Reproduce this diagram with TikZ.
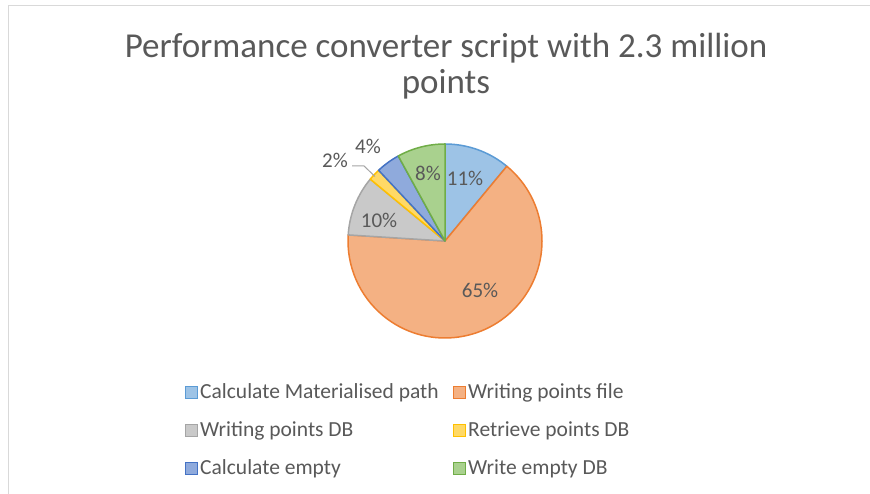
\documentclass[tikz,border=0pt]{standalone}
\usepackage{fontspec}
\setmainfont{Carlito}
\usetikzlibrary{calc}

\definecolor{txt}{HTML}{595959}
\definecolor{frame}{HTML}{D9D9D9}
\definecolor{bluefill}{HTML}{9DC3E6}\definecolor{blueline}{HTML}{5B9BD5}
\definecolor{orfill}{HTML}{F4B183}\definecolor{orline}{HTML}{ED7D31}
\definecolor{grfill}{HTML}{C9C9C9}\definecolor{grline}{HTML}{A5A5A5}
\definecolor{yefill}{HTML}{FFD966}\definecolor{yeline}{HTML}{FFC000}
\definecolor{dbfill}{HTML}{8FAADC}\definecolor{dbline}{HTML}{4472C4}
\definecolor{gnfill}{HTML}{A9D18E}\definecolor{gnline}{HTML}{70AD47}

\tikzset{
  slice/.style={line width=1.5pt, line join=round},
  pct/.style={text=txt, font=\fontsize{21}{24}\selectfont, inner sep=0pt},
  keybox/.style={minimum size=12pt, inner sep=0pt, line width=1pt},
  keytext/.style={text=txt, font=\fontsize{21.5}{24}\selectfont, anchor=west, inner sep=0pt},
}

% Slice from angle a to angle b (clockwise)
\newcommand{\pieslice}[4]{%
  \fill[#3] (ctr) -- ++(#1:97pt) arc[start angle=#1, end angle=#2, radius=97pt] -- cycle;
  \draw[slice, #4] (ctr) -- ++(#1:97pt) arc[start angle=#1, end angle=#2, radius=97pt] -- cycle;}

\begin{document}
\begin{tikzpicture}[x=1pt, y=1pt]
  \useasboundingbox (0,0) rectangle (870,494);
  \fill[white] (0,0) rectangle (870,494);

  % chart frame (top and left edges)
  \draw[frame, line width=1.5pt] (8.5,0) -- (8.5,488.5) -- (870,488.5);

  % title
  \node[text=txt, font=\fontsize{35}{36.5}\selectfont, align=center] (title) at (446,428)
    {Performance converter script with 2.3 million\\points};

  % pie
  \coordinate (ctr) at (445,253);
  \pieslice{90}{50.4}{bluefill}{blueline}
  \pieslice{50.4}{-183.6}{orfill}{orline}
  \pieslice{-183.6}{-219.6}{grfill}{grline}
  \pieslice{-219.6}{-226.8}{yefill}{yeline}
  \pieslice{-226.8}{-241.2}{dbfill}{dbline}
  \pieslice{-241.2}{-270}{gnfill}{gnline}

  % data labels
  \node[pct] (l11) at (465,316) {11\%};
  \node[pct] (l65) at (480,204) {65\%};
  \node[pct] (l10) at (379,274) {10\%};
  \node[pct] (l8)  at (428,321) {8\%};
  \node[pct] (l4)  at (368,348) {4\%};
  \node[pct] (l2)  at (335,334) {2\%};
  \coordinate (lead) at (375,317.5);
  \draw[grline, line width=1pt] (l2.east) ++(4pt,-6pt) coordinate (leadstart)
    -- ++(12pt,0) -- (lead);

  % legend
  \node[keybox, draw=blueline, fill=bluefill] (k1) at (191,101.3) {};
  \node[keytext] (t1) at (200,101.3) {Calculate Materialised path};
  \node[keybox, draw=orline, fill=orfill] (k2) at (459,101.3) {};
  \node[keytext] (t2) at (468,101.3) {Writing points file};
  \node[keybox, draw=grline, fill=grfill] (k3) at (191,63) {};
  \node[keytext] (t3) at (200,63) {Writing points DB};
  \node[keybox, draw=yeline, fill=yefill] (k4) at (459,63) {};
  \node[keytext] (t4) at (468,63) {Retrieve points DB};
  \node[keybox, draw=dbline, fill=dbfill] (k5) at (191,25) {};
  \node[keytext] (t5) at (200,25) {Calculate empty};
  \node[keybox, draw=gnline, fill=gnfill] (k6) at (459,25) {};
  \node[keytext] (t6) at (468,25) {Write empty DB};
\end{tikzpicture}
\end{document}
